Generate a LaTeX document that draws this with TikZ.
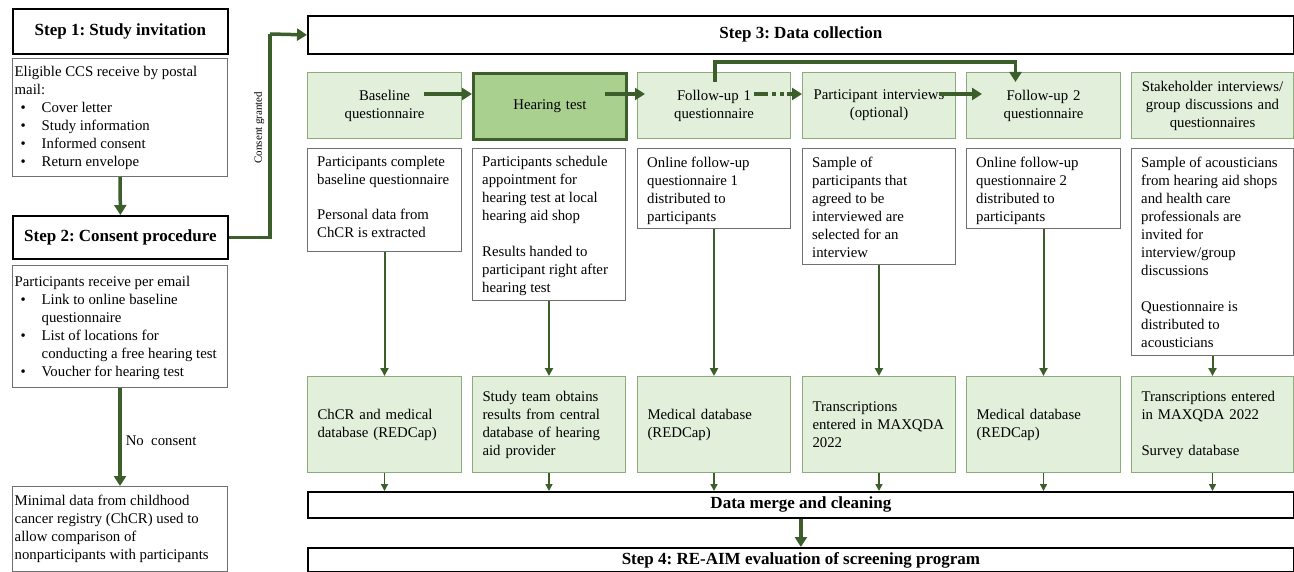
\documentclass[tikz,border=0pt]{standalone}
\usepackage{fontspec}
\setmainfont{Liberation Serif}
\usetikzlibrary{arrows.meta,calc}
\frenchspacing
\definecolor{arr}{HTML}{3B5E2B}
\definecolor{lgfill}{HTML}{E2EFDA}
\definecolor{lgdraw}{HTML}{8DAA7B}
\definecolor{dgfill}{HTML}{A9D08E}
\definecolor{dgdraw}{HTML}{3B5E2B}
\definecolor{txtdraw}{HTML}{707070}
\newcommand\bodyfs{\fontsize{14.8}{18}\selectfont}
\newcommand\titlefs{\fontsize{17}{20}\selectfont\bfseries}
\newcommand\bul{\hspace*{6pt}\makebox[21pt][l]{\textbullet}}
\newcommand\cont{\hspace*{27pt}}
\tikzset{
  titlebox/.style={draw=black, line width=1.8pt, fill=white, anchor=north west, inner sep=0pt, font=\titlefs},
  txtbox/.style={draw=txtdraw, line width=1pt, fill=white, anchor=north west, inner sep=0pt},
  txt/.style={anchor=north west, inner sep=0pt, align=left, font=\bodyfs},
  hdrbox/.style={draw=lgdraw, line width=1pt, fill=lgfill, anchor=north west, inner sep=0pt, align=center, font=\bodyfs, minimum height=66pt},
  hdrdark/.style={hdrbox, draw=dgdraw, line width=2.8pt, fill=dgfill},
  dbbox/.style={draw=lgdraw, line width=1pt, fill=lgfill, anchor=north west, inner xsep=10pt, inner ysep=0pt, align=left, font=\bodyfs, minimum height=96pt},
  thk/.style={draw=arr, line width=3.5pt, -{Triangle[length=10pt,width=12pt]}},
  thkline/.style={draw=arr, line width=3.5pt},
  varrow/.style={draw=arr, line width=2pt, -{Triangle[length=8pt,width=8pt]}},
  sarrow/.style={draw=arr, line width=1.5pt, -{Triangle[length=7pt,width=7pt]}},
}
\begin{document}
\begin{tikzpicture}[x=1pt,y=-1pt]
\useasboundingbox (0,0) rectangle (1294,572);

% ---------- left column ----------
\node[titlebox, minimum width=215pt, minimum height=45pt] (s1) at (12,8) {Step 1: Study invitation};
\node[txtbox, minimum width=215pt, minimum height=118pt] (s1t) at (12,58) {};
\node[txt] at ($(s1t.north west)+(2.5,8.5)$) {Eligible CCS receive by postal\\ mail:\\ \bul Cover letter\\ \bul Study information\\ \bul Informed consent\\ \bul Return envelope};

\node[titlebox, minimum width=215pt, minimum height=43pt] (s2) at (12,215) {Step 2: Consent procedure};
\node[txtbox, minimum width=215pt, minimum height=122pt] (s2t) at (12,265) {};
\node[txt] at ($(s2t.north west)+(2.5,11.5)$) {Participants receive per email\\ \bul Link to online baseline\\ \cont questionnaire\\ \bul List of locations for\\ \cont conducting a free hearing test\\ \bul Voucher for hearing test};

\node[txtbox, minimum width=215pt, minimum height=85pt] (nc) at (12,486) {};
\node[txt] at ($(nc.north west)+(2.5,8.5)$) {Minimal data from childhood\\ cancer registry (ChCR) used to\\ allow comparison of\\ nonparticipants with participants};

% ---------- step 3 ----------
\node[titlebox, minimum width=986pt, minimum height=38pt] (s3) at (307,15) {Step 3: Data collection};

% headers
\node[hdrbox, minimum width=154pt, text width=144pt] (h1) at (307,72) {Baseline\\ questionnaire};
\node[hdrdark, minimum width=153pt, text width=143pt] (h2) at (472,72) {Hearing test};
\node[hdrbox, minimum width=153pt, text width=143pt] (h3) at (637,72) {Follow-up 1\\ questionnaire};
\node[hdrbox, minimum width=153pt, text width=143pt] (h4) at (802,72) {Participant interviews\\ (optional)};
\node[hdrbox, minimum width=154pt, text width=144pt] (h5) at (966,72) {Follow-up 2\\ questionnaire};
\node[hdrbox, minimum width=162pt, text width=156pt] (h6) at (1131,72) {Stakeholder interviews/\\ group discussions and\\ questionnaires};

% descriptions
\node[txtbox, minimum width=154pt, minimum height=103pt] (d1) at (307,148) {};
\node[txt] at ($(d1.north west)+(10,8.5)$) {Participants complete\\ baseline questionnaire\\[17pt] Personal data from\\ ChCR is extracted};
\node[txtbox, minimum width=153pt, minimum height=152pt] (d2) at (472,148) {};
\node[txt] at ($(d2.north west)+(10,8.5)$) {Participants schedule\\ appointment for\\ hearing test at local\\ hearing aid shop\\[18pt] Results handed to\\ participant right after\\ hearing test};
\node[txtbox, minimum width=153pt, minimum height=80pt] (d3) at (637,148) {};
\node[txt] at ($(d3.north west)+(10,8.5)$) {Online follow-up\\ questionnaire 1\\ distributed to\\ participants};
\node[txtbox, minimum width=153pt, minimum height=116pt] (d4) at (802,148) {};
\node[txt] at ($(d4.north west)+(10,8.5)$) {Sample of\\ participants that\\ agreed to be\\ interviewed are\\ selected for an\\ interview};
\node[txtbox, minimum width=154pt, minimum height=80pt] (d5) at (966,148) {};
\node[txt] at ($(d5.north west)+(10,8.5)$) {Online follow-up\\ questionnaire 2\\ distributed to\\ participants};
\node[txtbox, minimum width=162pt, minimum height=207pt] (d6) at (1131,148) {};
\node[txt] at ($(d6.north west)+(10,8.5)$) {Sample of acousticians\\ from hearing aid shops\\ and health care\\ professionals are\\ invited for\\ interview/group\\ discussions\\[18pt] Questionnaire is\\ distributed to\\ acousticians};

% databases
\node[dbbox, minimum width=154pt, text width=134pt] (b1) at (307,376) {ChCR and medical\\ database (REDCap)};
\node[dbbox, minimum width=153pt, text width=133pt] (b2) at (472,376) {Study team obtains\\ results from central\\ database of hearing\\ aid provider};
\node[dbbox, minimum width=153pt, text width=133pt] (b3) at (637,376) {Medical database\\ (REDCap)};
\node[dbbox, minimum width=153pt, text width=133pt] (b4) at (802,376) {Transcriptions\\ entered in MAXQDA\\ 2022};
\node[dbbox, minimum width=154pt, text width=134pt] (b5) at (966,376) {Medical database\\ (REDCap)};
\node[dbbox, minimum width=162pt, text width=142pt] (b6) at (1131,376) {Transcriptions entered\\ in MAXQDA 2022\\[18pt] Survey database};

% merge and step 4
\node[titlebox, minimum width=986pt, minimum height=26pt] (mg) at (307,491) {Data merge and cleaning};
\node[titlebox, minimum width=986pt, minimum height=24pt] (s4) at (307,547) {Step 4: RE-AIM evaluation of screening program};

% ---------- connectors ----------
\draw[thk] (s1t.south) -- (s2.north);
\draw[thk] (s2t.south) -- node[pos=0.54, right, inner sep=4pt, font=\bodyfs] {No\ \ consent} (nc.north);
\coordinate (cg) at (270,34);
\draw[thkline] (s2.east) -| node[pos=0.77, above, sloped, inner sep=4pt, font=\fontsize{11}{13}\selectfont] {Consent granted} (cg);
\draw[thk] (cg) -- (s3.west);

% header arrows
\coordinate (a1) at ($(h1.north east)+(-38,22)$);
\draw[thk] (a1) -- (a1 -| h2.west);
\coordinate (a2) at ($(h2.north east)+(-23,22)$);
\coordinate (a2e) at ($(h3.north west)+(8,22)$);
\draw[thk] (a2) -- (a2e);
\coordinate (a3) at ($(h3.north east)+(-37,22)$);
\draw[draw=arr, line width=3.5pt, dash pattern=on 14pt off 4pt on 4pt off 4pt on 4pt off 3pt, -{Triangle[length=10pt,width=12pt]}] (a3) -- (a3 -| h4.west);
\coordinate (a4) at ($(h4.north east)+(-17,22)$);
\coordinate (a4e) at ($(h5.north west)+(16,22)$);
\draw[thk] (a4) -- (a4e);
\coordinate (k1) at ($(h3.north)+(1,10)$);
\coordinate (k2) at ($(h5.north)+(-28,10)$);
\draw[thk] (k1) |- ($(k2)+(0,-20)$) -- (k2);

% column arrows
\foreach \i in {1,...,6} {
  \draw[varrow] (d\i.south) -- (b\i.north);
  \draw[sarrow] (b\i.south) -- (b\i.south |- mg.north);
}
\draw[thk] (mg.south) -- (s4.north);
\end{tikzpicture}
\end{document}
